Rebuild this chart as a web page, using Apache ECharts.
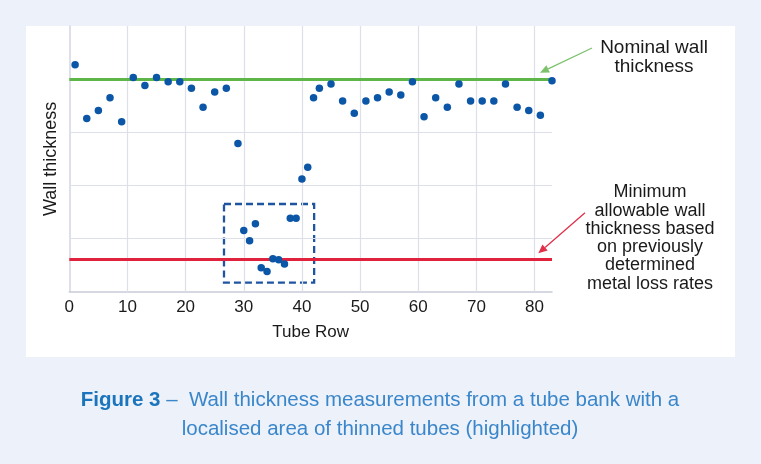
<!DOCTYPE html>
<html>
<head>
<meta charset="utf-8">
<script src="https://cdn.jsdelivr.net/npm/echarts@6/dist/echarts.min.js"></script>
<style>
  html, body { margin: 0; padding: 0; background: #edf1f9; }
  #chart { width: 761px; height: 464px; }
</style>
</head>
<body>
<div id="chart"></div>
<script>
// tube rows and measured wall thickness (arbitrary units, axis unlabelled)
var rows = [1, 3, 5, 7, 9, 11, 13, 15, 17, 19, 21, 23, 25, 27, 29,
  30, 31, 32, 33, 34, 35, 36, 37, 38, 39, 40, 41, 42, 43,
  45, 47, 49, 51, 53, 55, 57, 59, 61, 63, 65, 67, 69, 71, 73, 75, 77, 79, 81, 83];
var thickness = [4.27, 3.26, 3.41, 3.65, 3.20, 4.03, 3.88, 4.03, 3.95, 3.95, 3.83, 3.47, 3.76, 3.83, 2.79,
  1.15, 0.96, 1.28, 0.45, 0.38, 0.62, 0.60, 0.52, 1.38, 1.38, 2.12, 2.34, 3.65, 3.83,
  3.91, 3.59, 3.36, 3.59, 3.65, 3.76, 3.70, 3.95, 3.29, 3.65, 3.47, 3.91, 3.59, 3.59, 3.59, 3.91, 3.47, 3.41, 3.32, 3.97];

var xTicks = [10, 20, 30, 40, 50, 60, 70, 80];
var yTicks = [1, 2, 3, 4];

var nominalWall = 4.0;
var minAllowable = 0.61;

// highlighted (thinned) area: [xFrom, xTo, yFrom, yTo]
var highlightBox = [26.6, 42.1, 0.17, 1.65];

var font = 'Liberation Sans, Arial, sans-serif';

// small arrow (line + head) for the annotations
function arrow(x1, y1, x2, y2, color) {
  var dx = x2 - x1, dy = y2 - y1;
  var len = Math.sqrt(dx * dx + dy * dy);
  var ux = dx / len, uy = dy / len;
  var hl = 9, hw = 4;
  var bx = x2 - ux * hl, by = y2 - uy * hl;
  return [
    {
      type: 'line',
      shape: { x1: x1, y1: y1, x2: bx, y2: by },
      style: { stroke: color, lineWidth: 1.3 }
    },
    {
      type: 'polygon',
      shape: { points: [[x2, y2], [bx - uy * hw, by + ux * hw], [bx + uy * hw, by - ux * hw]] },
      style: { fill: color }
    }
  ];
}

var chart = echarts.init(document.getElementById('chart'));

var graphics = [
  {
    type: 'rect',
    z: -10,
    shape: { x: 26, y: 26, width: 709, height: 331 },
    style: { fill: '#ffffff' }
  },
  {
    type: 'text',
    x: 654, y: 57.5,
    style: {
      text: 'Nominal wall\nthickness',
      font: '19px ' + font,
      fill: '#1a1a1a',
      align: 'center', verticalAlign: 'middle',
      lineHeight: 18.5
    }
  },
  {
    type: 'text',
    x: 650, y: 238,
    style: {
      text: 'Minimum\nallowable wall\nthickness based\non previously\ndetermined\nmetal loss rates',
      font: '18px ' + font,
      fill: '#1a1a1a',
      align: 'center', verticalAlign: 'middle',
      lineHeight: 18.3
    }
  },
  {
    type: 'text',
    x: 380, y: 415,
    style: {
      text: '{b|Figure 3}{n| –  Wall thickness measurements from a tube bank with a}\n{n|localised area of thinned tubes (highlighted)}',
      align: 'center', verticalAlign: 'middle',
      rich: {
        b: { fontFamily: font, fontSize: 20.5, fontWeight: 'bold', fill: '#1b75bc', lineHeight: 29 },
        n: { fontFamily: font, fontSize: 20.5, fill: '#3a86cb', lineHeight: 29 }
      }
    }
  }
].concat(arrow(592, 48, 540, 72.7, '#7cc26b'))
 .concat(arrow(585, 212.7, 538.3, 253.3, '#e0304a'));

chart.setOption({
  backgroundColor: '#edf1f9',
  animation: false,
  textStyle: { fontFamily: font },
  grid: { left: 69.3, top: 26, right: 209, bottom: 172.3 },
  xAxis: {
    type: 'value',
    min: 0,
    max: 83,
    interval: 10,
    name: 'Tube Row',
    nameLocation: 'middle',
    nameGap: 32,
    nameTextStyle: { fontSize: 17, color: '#1a1a1a' },
    axisLine: { lineStyle: { color: '#c7cbd8', width: 1.5 } },
    axisTick: { show: false },
    splitLine: { show: false },
    axisLabel: { fontSize: 17, color: '#1a1a1a', margin: 7, showMaxLabel: false }
  },
  yAxis: {
    type: 'value',
    min: 0,
    max: 5,
    interval: 1,
    name: 'Wall thickness',
    nameLocation: 'middle',
    nameRotate: 90,
    nameGap: 9,
    nameTextStyle: { fontSize: 18, color: '#1a1a1a' },
    axisLine: { show: true, lineStyle: { color: '#d3d6e2', width: 1.5 } },
    axisTick: { show: false },
    axisLabel: { show: false },
    splitLine: { show: false }
  },
  graphic: graphics,
  series: [
    {
      name: 'grid',
      type: 'scatter',
      z: 1,
      data: [],
      markLine: {
        silent: true,
        symbol: 'none',
        label: { show: false },
        lineStyle: { color: '#dde0ea', width: 1.2, type: 'solid' },
        data: xTicks.map(function (v) { return { xAxis: v }; })
          .concat(yTicks.map(function (v) { return { yAxis: v }; }))
      }
    },
    {
      name: 'limits',
      type: 'scatter',
      z: 3,
      data: [],
      markLine: {
        silent: true,
        symbol: 'none',
        label: { show: false },
        data: [
          { yAxis: nominalWall, lineStyle: { color: '#5db647', width: 3, type: 'solid' } },
          { yAxis: minAllowable, lineStyle: { color: '#e0223c', width: 3, type: 'solid' } }
        ]
      },
      markArea: {
        silent: true,
        itemStyle: {
          color: 'rgba(0,0,0,0)',
          borderColor: '#1f55a0',
          borderWidth: 2.3,
          borderType: [7, 4]
        },
        data: [[
          { xAxis: highlightBox[0], yAxis: highlightBox[3] },
          { xAxis: highlightBox[1], yAxis: highlightBox[2] }
        ]]
      }
    },
    {
      name: 'Wall thickness',
      type: 'scatter',
      z: 5,
      symbolSize: 7.5,
      itemStyle: { color: '#0b56a6', opacity: 1 },
      data: rows.map(function (r, i) { return [r, thickness[i]]; })
    }
  ]
});
</script>
</body>
</html>
